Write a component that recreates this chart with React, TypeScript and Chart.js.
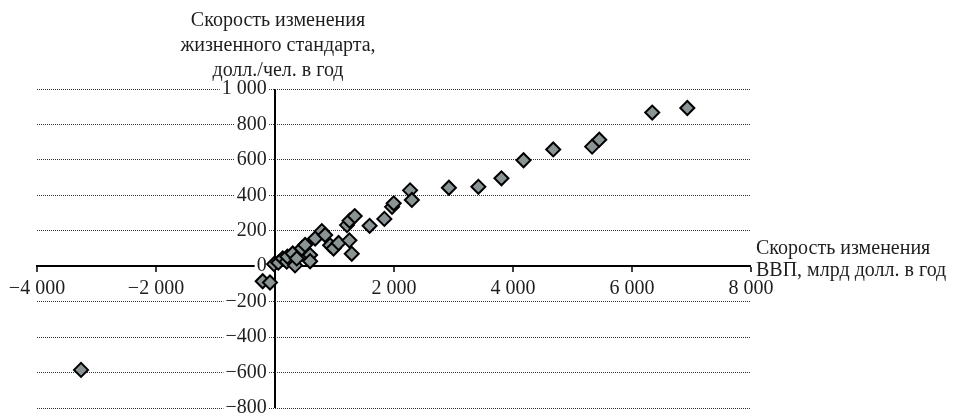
import { useEffect, useRef } from 'react';
import { Chart, registerables } from 'chart.js';

Chart.register(...registerables);

// Rate of change of GDP, bn USD per year
const gdpChange = [
  -3260, -207, -84, -17, 56, 130, 197, 208, 298, 337, 366, 450, 506, 590, 590, 675,
  787, 843, 927, 984, 1068, 1250, 1290, 1210, 1253, 1340, 1590, 1838, 1967, 1995,
  2270, 2300, 2923, 3418, 3806, 4177, 4676, 5330, 5450, 6340, 6930,
];
// Rate of change of living standard, USD per person per year
const livingChange = [
  -585, -85, -92, 12, 20, 44, 26, 54, 72, 5, 44, 100, 120, 63, 28, 156,
  198, 176, 118, 100, 131, 146, 70, 232, 257, 283, 228, 267, 335, 355,
  428, 374, 443, 448, 496, 598, 659, 675, 714, 867, 893,
];

const xAxisRange = [-4000, 8000];
const xAxisStep = 2000;
const yAxisRange = [-800, 1000];
const yAxisStep = 200;
// value on the x scale where the y tick labels end (just left of the y axis)
const yLabelAnchor = -140;

const yTitleLines = ['Скорость изменения', 'жизненного стандарта,', 'долл./чел. в год'];
const xTitleLines = ['Скорость изменения', 'ВВП, млрд долл. в год'];

const FONT_FAMILY = '"Liberation Serif", "Times New Roman", serif';
const TEXT_COLOR = '#1e1e1e';

const fmt = (v: number) => {
  const s = Math.abs(v)
    .toString()
    .replace(/\B(?=(\d{3})+(?!\d))/g, ' ');
  return (v < 0 ? '\u2212' : '') + s;
};

const titlePlugin = {
  id: 'axisTitles',
  afterDraw(chart: any) {
    const { ctx, chartArea, scales } = chart;
    const xs = scales.x;
    const ys = scales.y;
    ctx.save();
    ctx.font = `20px ${FONT_FAMILY}`;
    ctx.fillStyle = TEXT_COLOR;
    ctx.textBaseline = 'middle';
    ctx.textAlign = 'center';
    const cx = xs.getPixelForValue(0) + 3;
    yTitleLines.forEach((t, i) => ctx.fillText(t, cx, chartArea.top - 68 + i * 25));
    ctx.textAlign = 'left';
    const y0 = ys.getPixelForValue(0);
    xTitleLines.forEach((t, i) => ctx.fillText(t, chartArea.right + 5, y0 - 17 + i * 22));
    ctx.restore();
  },
};

export default function App() {
  const ref = useRef<HTMLCanvasElement | null>(null);

  useEffect(() => {
    if (!ref.current) return;
    const points = gdpChange.map((x, i) => ({ x, y: livingChange[i] }));
    const chart = new Chart(ref.current, {
      type: 'scatter',
      data: {
        datasets: [
          {
            data: points,
            pointStyle: 'rectRot',
            pointRadius: 7,
            pointHoverRadius: 7,
            backgroundColor: '#8a9494',
            borderColor: '#000',
            borderWidth: 2,
          },
        ],
      },
      options: {
        animation: false,
        responsive: false,
        devicePixelRatio: 1,
        events: [],
        layout: { padding: { left: 37, top: 89, right: 203, bottom: 5 } },
        plugins: { legend: { display: false }, tooltip: { enabled: false } },
        scales: {
          x: {
            type: 'linear',
            min: xAxisRange[0],
            max: xAxisRange[1],
            position: { y: 0 } as any,
            afterFit: (s: any) => {
              s.height = 0;
              s.paddingLeft = 0;
              s.paddingRight = 0;
              s.paddingTop = 0;
              s.paddingBottom = 0;
            },
            ticks: {
              stepSize: xAxisStep,
              autoSkip: false,
              maxRotation: 0,
              padding: 6,
              color: TEXT_COLOR,
              font: { family: FONT_FAMILY, size: 20 },
              callback: (v: any) => (Number(v) === 0 ? '' : fmt(Number(v))),
            },
            grid: {
              drawOnChartArea: true,
              // only the zero line is drawn: it is the vertical (y) axis
              color: (c: any) => (c.tick && c.tick.value === 0 ? '#000' : 'rgba(0,0,0,0)'),
              lineWidth: (c: any) => (c.tick && c.tick.value === 0 ? 2 : 0),
              drawTicks: true,
              tickLength: 5,
              tickColor: '#000',
              tickWidth: 1.5,
            },
            border: { display: true, color: '#000', width: 2 },
          },
          y: {
            type: 'linear',
            min: yAxisRange[0],
            max: yAxisRange[1],
            position: { x: yLabelAnchor } as any,
            afterFit: (s: any) => {
              s.width = 0;
              s.paddingLeft = 0;
              s.paddingRight = 0;
              s.paddingTop = 0;
              s.paddingBottom = 0;
            },
            ticks: {
              stepSize: yAxisStep,
              padding: 0,
              color: TEXT_COLOR,
              font: { family: FONT_FAMILY, size: 20 },
              showLabelBackdrop: true,
              backdropColor: '#fff',
              backdropPadding: { x: 2, y: 0 } as any,
              callback: (v: any) => fmt(Number(v)),
            },
            grid: { color: '#333', lineWidth: 1, drawTicks: false },
            border: { display: false, dash: [1, 1] },
          },
        },
      },
      plugins: [titlePlugin],
    });
    return () => chart.destroy();
  }, []);

  return (
    <div style={{ position: 'fixed', left: 0, top: 0, width: 954, height: 417, background: '#fff' }}>
      <canvas ref={ref} width={954} height={417} />
    </div>
  );
}
